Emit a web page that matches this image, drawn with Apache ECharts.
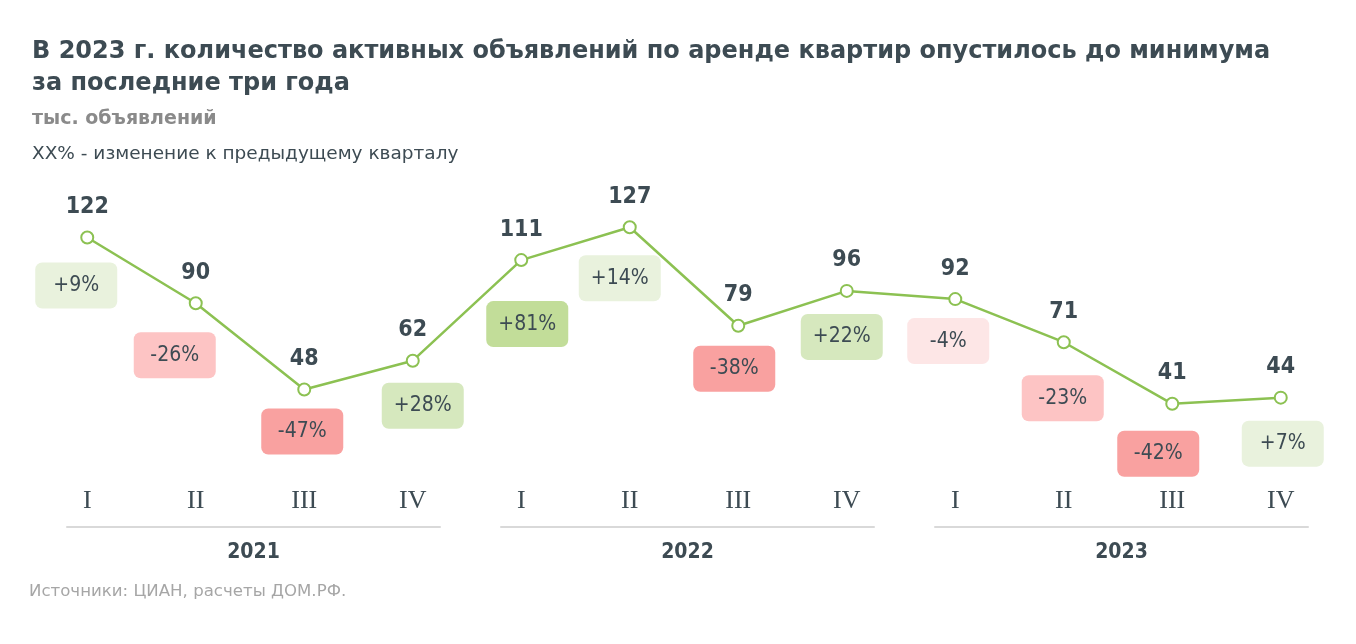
<!DOCTYPE html>
<html><head><meta charset="utf-8">
<script src="https://cdn.jsdelivr.net/npm/echarts@6/dist/echarts.min.js"></script>
<style>html,body{margin:0;padding:0;background:#fff}#c{width:1356px;height:644px}</style>
</head><body><div id="c"></div>
<script>
// ---- data ----
const quarters = ['I','II','III','IV','I','II','III','IV','I','II','III','IV'];
const years = ['2021','2022','2023'];
const listings = [122,90,48,62,111,127,79,96,92,71,41,44];
const qoqChange = [9,-26,-47,28,81,14,-38,22,-4,-23,-42,7];

// ---- layout / style ----
const FONT = "'DejaVu Sans',sans-serif";
const FONT_C = "'DejaVu Sans Condensed','DejaVu Sans',sans-serif";
const DARK = '#3d4b53';
const GREEN = '#8cc152';
const boxOffsets = [[-11,48],[-21,52],[-2,42],[10,45],[6,64],[-10,51],[-4,43],[-5,46],[-7,42],[-1,56],[-14,50],[2,46]];
function boxColor(c){
  if(c>=50) return '#c2dd99';
  if(c>=20) return '#d6e8be';
  if(c>0) return '#e9f2dd';
  if(c<=-30) return '#f9a1a0';
  if(c<=-10) return '#fdc4c4';
  return '#fde6e6';
}
const catKeys = quarters.map((q,i)=>years[Math.floor(i/4)]+'|'+q);

const chart = echarts.init(document.getElementById('c'), null, {renderer:'canvas'});
chart.setOption({
  animation:false,
  backgroundColor:'#fff',
  title:[
    {text:'В 2023 г. количество активных объявлений по аренде квартир опустилось до минимума\nза последние три года',
     left:27, top:31, textStyle:{fontFamily:FONT, fontWeight:'bold', fontSize:24, color:DARK, lineHeight:32}},
    {text:'тыс. объявлений', left:27, top:105, textStyle:{fontFamily:FONT, fontWeight:'bold', fontSize:19, color:'#8a8a8a'}},
    {text:'XX% - изменение к предыдущему кварталу', left:27, top:140, textStyle:{fontFamily:FONT, fontWeight:'normal', fontSize:18.5, color:DARK}},
    {text:'Источники: ЦИАН, расчеты ДОМ.РФ.', left:24, top:578, textStyle:{fontFamily:FONT, fontWeight:'normal', fontSize:16.6, color:'#a6a6a6'}}
  ],
  grid:{left:33, right:21, top:180, height:308},
  xAxis:{type:'category', data:catKeys, boundaryGap:true,
    axisLine:{show:false}, axisTick:{show:false}, splitLine:{show:false},
    axisLabel:{formatter:v=>v.split('|')[1], margin:0, fontFamily:"'Liberation Serif','DejaVu Serif',serif", fontSize:26, color:DARK, verticalAlign:'top', lineHeight:26}},
  yAxis:{type:'value', min:0, max:150, show:false},
  series:[
    {type:'line', data:listings, z:3,
     lineStyle:{color:GREEN, width:2.5},
     symbol:'circle', symbolSize:12, showSymbol:true,
     itemStyle:{color:'#fff', borderColor:GREEN, borderWidth:2},
     label:{show:true, position:'top', distance:12, fontFamily:FONT_C, fontWeight:'bold', fontSize:23, color:DARK}},
    {type:'scatter', z:2, silent:true,
     data:listings.map((v,i)=>({value:v,
        label:{offset:boxOffsets[i], backgroundColor:boxColor(qoqChange[i])},
     })),
     symbol:'circle', symbolSize:0.1, itemStyle:{color:'rgba(0,0,0,0)', opacity:1},
     label:{show:true, position:'inside',
       formatter:p=>{const c=qoqChange[p.dataIndex]; return (c>0?'+':'')+c+'%';},
       width:82, height:46, lineHeight:46, align:'center', verticalAlign:'middle',
       borderRadius:7, fontFamily:FONT_C, fontSize:21, color:DARK}}
  ]
});

// year brackets
const g=[];
years.forEach((y,k)=>{
  const x1 = chart.convertToPixel({xAxisIndex:0}, k*4) - 21;
  const x2 = chart.convertToPixel({xAxisIndex:0}, k*4+3) + 28;
  g.push({type:'line', shape:{x1:x1, y1:527, x2:x2, y2:527}, style:{stroke:'#d9d9d9', lineWidth:2}});
  g.push({type:'text', x:(x1+x2)/2, y:553, style:{text:y, fill:DARK, font:"bold 21px "+FONT_C, textAlign:'center', textVerticalAlign:'middle'}});
});
chart.setOption({graphic:g});
</script></body></html>
